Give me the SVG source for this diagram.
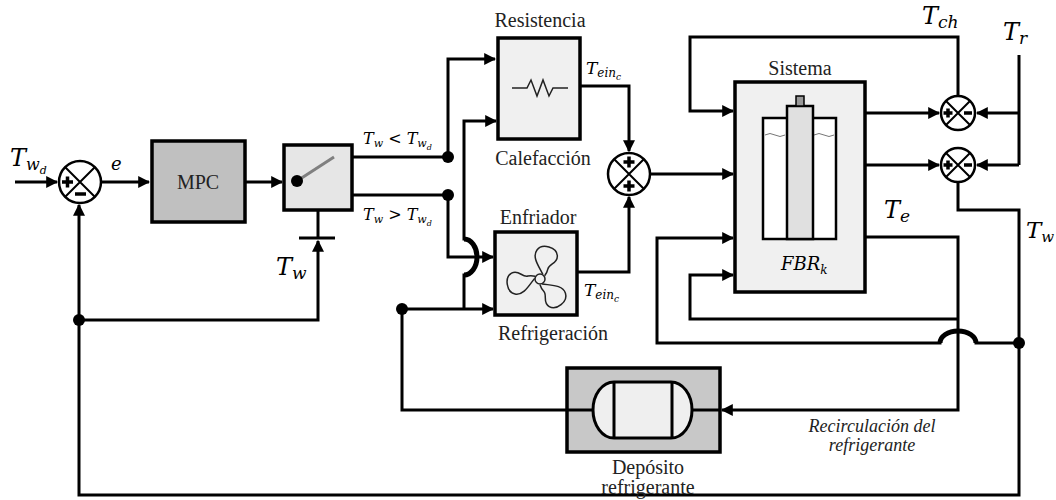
<svg xmlns="http://www.w3.org/2000/svg" width="1056" height="500" viewBox="0 0 1056 500">
  <style>
    .ln { fill: none; stroke: #000; stroke-width: 3; }
    .arr { fill: none; stroke: #000; stroke-width: 3; marker-end: url(#ah); }
    .hop { fill: none; stroke: #000; stroke-width: 5; }
    .box { fill: #f0f0f0; stroke: #000; stroke-width: 3.5; }
    .dark { fill: #c0c0c0; stroke: #000; stroke-width: 3.5; }
    .lbl { font-family: 'Liberation Serif', 'Times New Roman', 'DejaVu Serif', serif; font-size: 20px; fill: #222; }
    .it { font-family: 'Liberation Serif', 'Times New Roman', 'DejaVu Serif', serif; font-style: italic; font-size: 18px; fill: #222; }
    .m { font-family: 'DejaVu Serif', 'Liberation Serif', serif; font-style: italic; fill: #000; }
    .sum { fill: #fff; stroke: #000; stroke-width: 2.5; }
    .x { stroke: #000; stroke-width: 2; }
    .sg { stroke: #000; stroke-width: 3.5; }
    .dot { fill: #000; }
  </style>
  <defs>
    <marker id="ah" viewBox="0 0 10 10" refX="9" refY="5" markerWidth="4" markerHeight="4" orient="auto" markerUnits="strokeWidth">
      <path d="M0,0 L10,5 L0,10 z" fill="#000"/>
    </marker>
    <g id="blade">
      <path d="M2,-5 C-3,-12 -12,-20 -8,-28 C-4,-36 11,-34 13,-26 C15,-18 6,-17 6,-11 C6,-8 5,-6 4,-4" fill="none" stroke="#222" stroke-width="1.5"/>
    </g>
  </defs>

  <!-- connectors -->
  <g id="connectors">
    <path class="arr" d="M15,182 H57"/>
    <path class="arr" d="M101,182 H149"/>
    <path class="arr" d="M245,182 H282"/>
    <path class="ln" d="M333,157 H448"/>
    <path class="ln" d="M332,195 H448"/>
    <path class="arr" d="M448,157 V59 H495"/>
    <path class="arr" d="M448,195 V257 H493"/>
    <path class="arr" d="M464,309 V275 A13,18 0 0 0 464,239 V121 H496"/>
    <path class="hop" d="M464,275 A13,18 0 0 0 464,239"/>
    <path class="arr" d="M402,309 H493"/>
    <path class="ln" d="M593,410 H402 V309"/>
    <path class="arr" d="M580,86 H629 V151"/>
    <path class="arr" d="M577,272 H629 V197"/>
    <path class="arr" d="M650,174 H733"/>
    <path class="arr" d="M958,96 V37 H690 V111 H733"/>
    <path class="arr" d="M865,113 H939"/>
    <path class="arr" d="M865,165 H939"/>
    <path class="ln" d="M1019,55 V165"/>
    <path class="arr" d="M1019,113 H977"/>
    <path class="arr" d="M1019,165 H977"/>
    <path class="arr" d="M958,182 V210 H1019 V495 H79 V205"/>
    <path class="arr" d="M79,320 H318 V241"/>
    <path class="ln" d="M318,210 V238"/>
    <path class="ln" d="M299,238 H335"/>
    <path class="arr" d="M865,237 H958 V410 H722"/>
    <path class="arr" d="M958,319 H690 V275 H733"/>
    <path class="arr" d="M1019,343 H976 A18,12 0 0 0 940,343 H657 V238 H733"/>
    <path class="hop" d="M976,343 A18,12 0 0 0 940,343"/>
    <circle class="dot" cx="79" cy="320" r="6"/>
    <circle class="dot" cx="448" cy="157" r="6"/>
    <circle class="dot" cx="448" cy="195" r="6"/>
    <circle class="dot" cx="402" cy="309" r="6"/>
    <circle class="dot" cx="1019" cy="343" r="6"/>
  </g>

  <!-- error summing junction -->
  <g id="sum-error">
    <circle class="sum" cx="80" cy="182" r="21"/>
    <path class="x" d="M65,167 L95,197 M95,167 L65,197"/>
    <path class="sg" d="M62,182 H73 M67.5,176.5 V187.5"/>
    <path class="sg" d="M75,194 H86"/>
  </g>

  <!-- controller -->
  <g id="mpc">
    <rect class="dark" x="152" y="141" width="93" height="81"/>
    <text class="lbl" x="198" y="189" text-anchor="middle" font-family="Liberation Serif, Times New Roman, serif">MPC</text>
  </g>

  <!-- selector switch -->
  <g id="switch">
    <rect x="284" y="145" width="68" height="65" fill="#e6e6e6" stroke="#000" stroke-width="3.5"/>
    <line x1="297" y1="181" x2="334" y2="157" stroke="#808080" stroke-width="3"/>
    <circle class="dot" cx="297" cy="181" r="6"/>
  </g>

  <!-- heater -->
  <g id="resistencia">
    <rect class="box" x="498" y="38" width="82" height="101"/>
    <path d="M512,88 H527 L531,80 L537,96 L543,80 L549,96 L553,88 H568" fill="none" stroke="#222" stroke-width="1.5"/>
    <text class="lbl" x="540" y="27" text-anchor="middle">Resistencia</text>
    <text class="lbl" x="543" y="165" text-anchor="middle">Calefacción</text>
  </g>

  <!-- cooler -->
  <g id="enfriador">
    <rect class="box" x="495" y="232" width="82" height="83"/>
    <use href="#blade" transform="translate(540,279) rotate(10)"/>
    <use href="#blade" transform="translate(540,279) rotate(-105)"/>
    <use href="#blade" transform="translate(540,279) rotate(135)"/>
    <circle cx="540" cy="279" r="5" fill="#f0f0f0" stroke="#222" stroke-width="1.5"/>
    <text class="lbl" x="538" y="224" text-anchor="middle">Enfriador</text>
    <text class="lbl" x="553" y="340" text-anchor="middle">Refrigeración</text>
  </g>

  <!-- heat sum junction -->
  <g id="sum-heat">
    <circle class="sum" cx="629" cy="174" r="21"/>
    <path class="x" d="M614,159 L644,189 M644,159 L614,189"/>
    <path class="sg" d="M623.5,162 H634.5 M629,156.5 V167.5"/>
    <path class="sg" d="M623.5,186 H634.5 M629,180.5 V191.5"/>
  </g>

  <!-- plant -->
  <g id="sistema">
    <rect class="box" x="735" y="82" width="130" height="210"/>
    <rect x="763" y="118" width="73" height="121" fill="#fff" stroke="#000" stroke-width="2.5"/>
    <path d="M765,135 q5,-3 10,0 t10,0 M814,135 q5,-3 10,0 t10,0" fill="none" stroke="#777" stroke-width="1"/>
    <rect x="787" y="106" width="26" height="133" fill="#e0e0e0" stroke="#000" stroke-width="2.5"/>
    <rect x="796" y="96" width="8" height="10" fill="#999" stroke="#000" stroke-width="1.5"/>
    <text class="lbl" x="800" y="75" text-anchor="middle">Sistema</text>
    <text class="m" x="781" y="270" font-size="18">FBR<tspan font-size="12" dy="4">k</tspan></text>
  </g>

  <!-- output sum junctions -->
  <g id="sum-ch">
    <circle class="sum" cx="958" cy="113" r="17"/>
    <path class="x" d="M946,101 L970,125 M970,101 L946,125"/>
    <path class="sg" d="M943.5,113 H952.5 M948,108.5 V117.5"/>
    <path class="sg" d="M964,113 H972"/>
  </g>
  <g id="sum-w">
    <circle class="sum" cx="958" cy="165" r="17"/>
    <path class="x" d="M946,153 L970,177 M970,153 L946,177"/>
    <path class="sg" d="M943.5,165 H952.5 M948,160.5 V169.5"/>
    <path class="sg" d="M964,165 H972"/>
  </g>

  <!-- coolant tank -->
  <g id="deposito">
    <rect x="567" y="368" width="153" height="84" fill="#c8c8c8" stroke="#000" stroke-width="3.5"/>
    <line x1="692" y1="410" x2="720" y2="410" stroke="#000" stroke-width="3"/>
    <line x1="567" y1="410" x2="593" y2="410" stroke="#000" stroke-width="3"/>
    <rect x="593" y="382" width="99" height="56" rx="21" ry="28" fill="#efefef" stroke="#000" stroke-width="3"/>
    <path d="M614,382 V438 M672,382 V438" stroke="#000" stroke-width="3"/>
    <text class="lbl" x="648" y="474" text-anchor="middle">Depósito</text>
    <text class="lbl" x="648" y="494" text-anchor="middle">refrigerante</text>
  </g>

  <!-- signal labels -->
  <g id="labels">
    <text class="m" x="10" y="166" font-size="24">T<tspan font-size="16" dy="4">w</tspan><tspan font-size="11" dy="4">d</tspan></text>
    <text class="m" x="111" y="170" font-size="18">e</text>
    <text class="m" x="363" y="144" font-size="16">T<tspan font-size="11" dy="3">w</tspan><tspan dy="-3" font-style="normal"> &lt; </tspan>T<tspan font-size="11" dy="3">w</tspan><tspan font-size="8" dy="3">d</tspan></text>
    <text class="m" x="363" y="220" font-size="16">T<tspan font-size="11" dy="3">w</tspan><tspan dy="-3" font-style="normal"> &gt; </tspan>T<tspan font-size="11" dy="3">w</tspan><tspan font-size="8" dy="3">d</tspan></text>
    <text class="m" x="276" y="275" font-size="24">T<tspan font-size="17" dy="4">w</tspan></text>
    <text class="m" x="586" y="74" font-size="17">T<tspan font-size="12" dy="3">ein</tspan><tspan font-size="9" dy="3">c</tspan></text>
    <text class="m" x="584" y="296" font-size="17">T<tspan font-size="12" dy="3">ein</tspan><tspan font-size="9" dy="3">c</tspan></text>
    <text class="m" x="922" y="24" font-size="24">T<tspan font-size="17" dy="4">ch</tspan></text>
    <text class="m" x="1003" y="40" font-size="24">T<tspan font-size="17" dy="4">r</tspan></text>
    <text class="m" x="884" y="218" font-size="24">T<tspan font-size="17" dy="4">e</tspan></text>
    <text class="m" x="1026" y="238" font-size="23">T<tspan font-size="15" dy="4">w</tspan></text>
    <text class="it" x="872" y="432" text-anchor="middle">Recirculación del</text>
    <text class="it" x="872" y="451" text-anchor="middle">refrigerante</text>
  </g>
</svg>
